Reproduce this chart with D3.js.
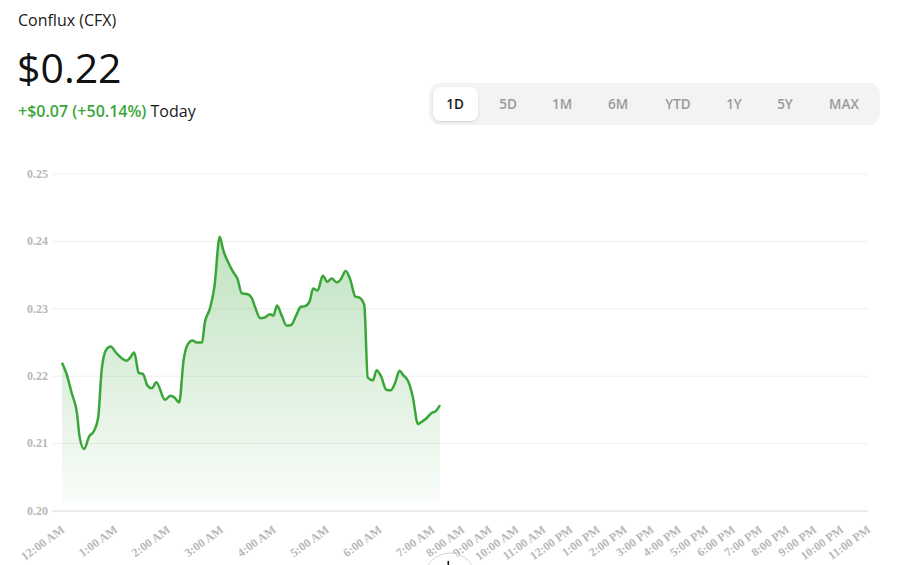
<!DOCTYPE html>
<html>
<head>
<meta charset="utf-8">
<script src="https://cdn.jsdelivr.net/npm/d3@7"></script>
<style>
  html, body { margin: 0; padding: 0; background: #fff; }
  svg { display: block; }
  .header-name { font-family: "Open Sans", sans-serif; font-size: 16px; fill: #1a1a1a; }
  .header-price { font-family: "Open Sans", sans-serif; font-size: 41px; fill: #111; }
  .header-change { font-family: "Open Sans", sans-serif; font-size: 16px; }
  .range-label { font-family: "Open Sans", sans-serif; font-size: 13.5px; font-weight: 600; }
  .tick-label { font-family: "Liberation Serif", serif; font-size: 12px; font-weight: bold; fill: #b8b8b8; }
</style>
</head>
<body>
<svg id="chart"></svg>
<script>
// 1D price series, minutes after midnight and price in USD
const timeMinutes = [0, 5, 11, 17, 20, 25, 31, 36, 41, 45, 50, 55, 62, 73, 77, 82, 87, 92, 97, 102,
  107, 117, 123, 128, 133, 138, 143, 148, 153, 159, 162, 168, 173, 179, 183, 189, 194, 199, 204, 210,
  215, 219, 225, 230, 236, 240, 244, 249, 255, 260, 266, 271, 276, 281, 285, 290, 296, 301, 306, 312,
  316, 322, 327, 333, 337, 343, 347, 353, 357, 362, 368, 373, 378, 383, 387, 393, 398, 404, 409, 414,
  420, 423, 429];
const prices = [0.2220, 0.2204, 0.2175, 0.2145, 0.2110, 0.2092, 0.2111, 0.2118, 0.2138, 0.2209,
  0.2239, 0.2244, 0.2234, 0.2223, 0.2227, 0.2235, 0.2205, 0.2203, 0.2186, 0.2182,
  0.2191, 0.2165, 0.2171, 0.2168, 0.2161, 0.2224, 0.2248, 0.2253, 0.2250, 0.2250,
  0.2279, 0.2301, 0.2333, 0.2407, 0.2387, 0.2368, 0.2355, 0.2345, 0.2323, 0.2322,
  0.2317, 0.2303, 0.2286, 0.2287, 0.2292, 0.2290, 0.2305, 0.2291, 0.2275, 0.2276,
  0.2291, 0.2303, 0.2304, 0.2311, 0.2330, 0.2327, 0.2349, 0.2340, 0.2345, 0.2339,
  0.2343, 0.2356, 0.2344, 0.2318, 0.2317, 0.2306, 0.2198, 0.2194, 0.2209, 0.2200,
  0.2180, 0.2179, 0.2190, 0.2208, 0.2202, 0.2192, 0.2170, 0.2129, 0.2133, 0.2138,
  0.2146, 0.2147, 0.2157];

const hourLabels = ['12:00 AM', '1:00 AM', '2:00 AM', '3:00 AM', '4:00 AM', '5:00 AM', '6:00 AM',
  '7:00 AM', '8:00 AM', '9:00 AM', '10:00 AM', '11:00 AM', '12:00 PM', '1:00 PM', '2:00 PM',
  '3:00 PM', '4:00 PM', '5:00 PM', '6:00 PM', '7:00 PM', '8:00 PM', '9:00 PM', '10:00 PM', '11:00 PM'];
const yTicks = [0.20, 0.21, 0.22, 0.23, 0.24, 0.25];
const rangeButtons = ['1D', '5D', '1M', '6M', 'YTD', '1Y', '5Y', 'MAX'];

const coinName = 'Conflux (CFX)';
const lastPrice = '$0.22';
const dayChange = '+$0.07 (+50.14%)';

class PriceChart {

  constructor(_config, _times, _prices) {
    this.config = {
      parentElement: _config.parentElement,
      containerWidth: _config.containerWidth || 898,
      containerHeight: _config.containerHeight || 565,
      margin: _config.margin || {top: 174, right: 30, bottom: 54, left: 62},
      lineColor: _config.lineColor || '#3aa63a'
    };
    this.times = _times;
    this.prices = _prices;
    this.initVis();
  }

  initVis() {
    let vis = this;

    vis.width = vis.config.containerWidth - vis.config.margin.left - vis.config.margin.right;
    vis.height = vis.config.containerHeight - vis.config.margin.top - vis.config.margin.bottom;

    vis.svg = d3.select(vis.config.parentElement)
        .attr('width', vis.config.containerWidth)
        .attr('height', vis.config.containerHeight);

    // Header texts
    vis.svg.append('text')
        .attr('class', 'header-name')
        .attr('x', 18).attr('y', 26)
        .text(coinName);

    vis.svg.append('text')
        .attr('class', 'header-price')
        .attr('x', 17).attr('y', 83)
        .text(lastPrice);

    const change = vis.svg.append('text')
        .attr('class', 'header-change')
        .attr('x', 18).attr('y', 117);
    change.append('tspan')
        .attr('fill', vis.config.lineColor)
        .attr('font-weight', 600)
        .text(dayChange);
    change.append('tspan')
        .attr('fill', '#1a1a1a')
        .text(' Today');

    vis.drawRangeButtons();

    // Chart group, margin convention
    vis.chart = vis.svg.append('g')
        .attr('transform', `translate(${vis.config.margin.left},${vis.config.margin.top})`);

    // Trading hours are stretched, the rest of the day is squeezed after the last point
    const lastT = d3.max(vis.times);
    vis.xScale = d3.scaleLinear()
        .domain([0, lastT, 480, 1380])
        .range([0, vis.width * 0.469, vis.width * 0.4963, vis.width]);

    vis.yScale = d3.scaleLinear()
        .domain([0.20, 0.25])
        .range([vis.height, 0]);

    const defs = vis.svg.append('defs');
    const grad = defs.append('linearGradient')
        .attr('id', 'areaFill')
        .attr('x1', 0).attr('y1', 0).attr('x2', 0).attr('y2', 1);
    grad.append('stop').attr('offset', '0%').attr('stop-color', vis.config.lineColor).attr('stop-opacity', 0.32);
    grad.append('stop').attr('offset', '100%').attr('stop-color', vis.config.lineColor).attr('stop-opacity', 0.03);

    vis.gridG = vis.chart.append('g').attr('class', 'grid');
    vis.areaPath = vis.chart.append('path');
    vis.linePath = vis.chart.append('path');
    vis.xLabelG = vis.chart.append('g');
    vis.yLabelG = vis.chart.append('g');
  }

  drawRangeButtons() {
    let vis = this;
    const g = vis.svg.append('g').attr('transform', 'translate(429,83)');

    g.append('rect')
        .attr('width', 451).attr('height', 42)
        .attr('rx', 11)
        .attr('fill', '#f3f3f3');

    const shadow = vis.svg.append('defs').append('filter')
        .attr('id', 'btnShadow')
        .attr('x', '-20%').attr('y', '-20%').attr('width', '140%').attr('height', '150%');
    shadow.append('feDropShadow')
        .attr('dx', 0).attr('dy', 1).attr('stdDeviation', 1.2)
        .attr('flood-color', '#000').attr('flood-opacity', 0.15);

    const centers = [26, 79, 133, 189, 249, 305, 356, 415];
    g.append('rect')
        .attr('x', 4).attr('y', 4)
        .attr('width', 45).attr('height', 34)
        .attr('rx', 8)
        .attr('fill', '#fff')
        .attr('filter', 'url(#btnShadow)');

    g.selectAll('.range-label')
        .data(rangeButtons)
      .join('text')
        .attr('class', 'range-label')
        .attr('x', (d, i) => centers[i])
        .attr('y', 21)
        .attr('dy', '0.35em')
        .attr('text-anchor', 'middle')
        .attr('fill', (d, i) => i === 0 ? '#1a1a1a' : '#9a9a9a')
        .text(d => d);
  }

  updateVis() {
    let vis = this;
    vis.points = vis.times.map((t, i) => ({t: t, v: vis.prices[i]}));
    vis.renderVis();
  }

  renderVis() {
    let vis = this;

    // Horizontal grid lines
    vis.gridG.selectAll('line')
        .data(yTicks)
      .join('line')
        .attr('x1', -10)
        .attr('x2', vis.width)
        .attr('y1', d => vis.yScale(d))
        .attr('y2', d => vis.yScale(d))
        .attr('stroke', d => d === 0.20 ? '#d6d6d6' : '#efefef')
        .attr('stroke-width', 1);

    vis.yLabelG.selectAll('text')
        .data(yTicks)
      .join('text')
        .attr('class', 'tick-label')
        .attr('x', -14)
        .attr('y', d => vis.yScale(d))
        .attr('dy', '0.32em')
        .attr('text-anchor', 'end')
        .text(d => d3.format('.2f')(d));

    const area = d3.area()
        .x(d => vis.xScale(d.t))
        .y0(vis.height - 9)
        .y1(d => vis.yScale(d.v))
        .curve(d3.curveMonotoneX);

    const line = d3.line()
        .x(d => vis.xScale(d.t))
        .y(d => vis.yScale(d.v))
        .curve(d3.curveMonotoneX);

    vis.areaPath
        .datum(vis.points)
        .attr('fill', 'url(#areaFill)')
        .attr('d', area);

    vis.linePath
        .datum(vis.points)
        .attr('fill', 'none')
        .attr('stroke', vis.config.lineColor)
        .attr('stroke-width', 2.5)
        .attr('stroke-linejoin', 'round')
        .attr('d', line);

    // Rotated hour labels
    vis.xLabelG.selectAll('text')
        .data(hourLabels)
      .join('text')
        .attr('class', 'tick-label')
        .attr('text-anchor', 'end')
        .attr('dy', '0.35em')
        .attr('transform', (d, i) => `translate(${vis.xScale(i * 60) + 1},${vis.height + 17}) rotate(-36)`)
        .text(d => d);

    // cursor left over in the screenshot
    vis.svg.append('circle')
        .attr('cx', 450).attr('cy', 579).attr('r', 26)
        .attr('fill', 'none').attr('stroke', '#d4d4d4').attr('stroke-width', 1);
    vis.svg.append('rect')
        .attr('x', 447.5).attr('y', 561).attr('width', 1.6).attr('height', 4)
        .attr('fill', '#111');
  }
}

const chart = new PriceChart({parentElement: '#chart'}, timeMinutes, prices);
chart.updateVis();
</script>
</body>
</html>
